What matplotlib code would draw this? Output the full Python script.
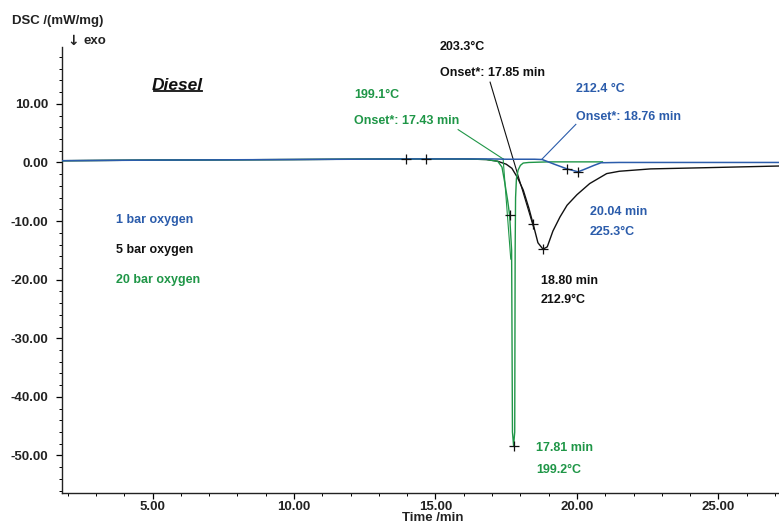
import matplotlib
matplotlib.use("Agg")
import matplotlib.pyplot as plt
from matplotlib.ticker import MultipleLocator, FormatStrFormatter

plt.rcParams['font.family'] = ['Liberation Sans', 'DejaVu Sans']
plt.rcParams['font.weight'] = 'bold'

BLUE = '#2b5cab'
GREEN = '#1f9647'
BLACK = '#111111'

# ---- data (time in min, DSC in mW/mg) ----
blue_t = [1.8, 5, 10, 14, 16, 17, 17.5, 18, 18.5, 18.77, 19.2, 19.65, 20.04, 20.3, 20.6, 20.85, 21.5, 24, 27.2]
blue_v = [0.3, 0.4, 0.5, 0.6, 0.6, 0.6, 0.55, 0.55, 0.55, 0.5, -0.3, -1.1, -1.6, -1.1, -0.5, -0.05, 0.0, 0.0, 0.0]

black_t = [1.8, 5, 10, 14, 16, 16.8, 17.2, 17.5, 17.7, 17.9, 18.1, 18.3, 18.45, 18.62, 18.8, 18.95,
           19.15, 19.4, 19.65, 20.0, 20.45, 21.05, 21.5, 22.6, 24.5, 27.2]
black_v = [0.3, 0.4, 0.5, 0.6, 0.6, 0.5, 0.2, -0.3, -1.0, -2.6, -4.7, -7.8, -10.5, -13.7, -14.8, -14.4,
           -11.7, -9.3, -7.3, -5.5, -3.6, -1.9, -1.5, -1.1, -0.9, -0.6]

green_t = [1.8, 5, 10, 14, 16, 16.8, 17.2, 17.35, 17.45, 17.55, 17.62, 17.69, 17.72, 17.76,
           17.80, 17.815, 17.83, 17.86, 17.92, 18.0, 18.1, 18.3, 19.0, 20.0, 20.9]
green_v = [0.3, 0.4, 0.5, 0.6, 0.6, 0.5, 0.2, -0.8, -3.5, -6.5, -9.0, -15, -46, -48.3,
           -46, -15, -6, -2.8, -1.3, -0.5, -0.1, 0.0, 0.1, 0.1, 0.1]

# marker points (+)
base_marks_t = [13.96, 14.66]
base_marks_v = [0.6, 0.6]
blue_marks_t = [19.65, 20.04]
blue_marks_v = [-1.1, -1.6]
black_marks_t = [18.45, 18.8]
black_marks_v = [-10.5, -14.8]
green_marks_t = [17.62, 17.76]
green_marks_v = [-9.0, -48.3]

# onset construction lines
green_leader_t = [15.8, 17.39]
green_leader_v = [5.6, 0.6]
green_tangent_t = [17.39, 17.66]
green_tangent_v = [0.6, -16.5]
black_tangent_t = [16.93, 18.48]
black_tangent_v = [13.7, -11.3]
blue_leader_t = [19.96, 18.77]
blue_leader_v = [6.5, 0.6]

series_labels = ['1 bar oxygen', '5 bar oxygen', '20 bar oxygen']

fig = plt.figure(figsize=(7.79, 5.24), dpi=100)
ax = fig.add_axes([62/779, 1-493/524, (779-62)/779, (493-47)/524])

ax.plot(black_t, black_v, color=BLACK, lw=1.0, zorder=3)
ax.plot(green_t, green_v, color=GREEN, lw=1.0, zorder=4)
ax.plot(blue_t, blue_v, color=BLUE, lw=1.1, zorder=5)

ax.plot(green_leader_t, green_leader_v, color=GREEN, lw=0.8, zorder=4)
ax.plot(green_tangent_t, green_tangent_v, color=GREEN, lw=0.8, zorder=4)
ax.plot(black_tangent_t, black_tangent_v, color=BLACK, lw=0.8, zorder=3)
ax.plot(blue_leader_t, blue_leader_v, color=BLUE, lw=0.8, zorder=5)

for mt, mv in [(base_marks_t, base_marks_v), (blue_marks_t, blue_marks_v),
               (black_marks_t, black_marks_v), (green_marks_t, green_marks_v)]:
    ax.plot(mt, mv, ls='none', marker='+', ms=7, mew=0.9, color=BLACK, zorder=6)

ax.set_xlim(1.80, 27.14)
ax.set_ylim(-56.4, 19.7)

for s in ['top', 'right']:
    ax.spines[s].set_visible(False)
for s in ['left', 'bottom']:
    ax.spines[s].set_linewidth(1.0)
    ax.spines[s].set_color('#222222')

ax.xaxis.set_major_locator(MultipleLocator(5))
ax.xaxis.set_minor_locator(MultipleLocator(1))
ax.yaxis.set_major_locator(MultipleLocator(10))
ax.yaxis.set_minor_locator(MultipleLocator(2))
ax.xaxis.set_major_formatter(FormatStrFormatter('%.2f'))
ax.yaxis.set_major_formatter(FormatStrFormatter('%.2f'))
ax.tick_params(which='major', direction='out', length=4, width=0.9, labelsize=9.5)
ax.tick_params(axis='y', which='major', pad=6)
ax.tick_params(axis='x', which='major', pad=2)
ax.tick_params(which='minor', direction='out', length=2.5, width=0.7)
for lab in ax.get_xticklabels() + ax.get_yticklabels():
    lab.set_fontweight('bold')
    lab.set_color('#222222')

fs = 9
def t(x, y, s, c):
    ax.text(x, y, s, color=c, fontsize=fs, fontweight='bold', ha='left', va='center', clip_on=False)

t(15.16, 19.7, '203.3°C', BLACK)
t(15.16, 15.2, 'Onset*: 17.85 min', BLACK)
t(12.12, 11.5, '199.1°C', GREEN)
t(12.12, 7.0, 'Onset*: 17.43 min', GREEN)
t(19.96, 12.5, '212.4 °C', BLUE)
t(19.96, 7.7, 'Onset*: 18.76 min', BLUE)
t(20.46, -8.4, '20.04 min', BLUE)
t(20.46, -11.9, '225.3°C', BLUE)
t(18.73, -20.2, '18.80 min', BLACK)
t(18.73, -23.5, '212.9°C', BLACK)
t(18.55, -48.7, '17.81 min', GREEN)
t(18.55, -52.5, '199.2°C', GREEN)
t(3.71, -9.8, series_labels[0], BLUE)
t(3.71, -14.9, series_labels[1], BLACK)
t(3.71, -20.1, series_labels[2], GREEN)

dtxt = ax.text(4.98, 13.05, 'Diesel', color=BLACK, fontsize=12.5, fontweight='bold',
               fontstyle='italic', ha='left', va='center')

fig.text(12/779, 1-21/524, 'DSC /(mW/mg)', fontsize=9.5, fontweight='bold', ha='left', va='center', color='#222222')
fig.text(67/779, 1-41/524, '\u2193', fontsize=10, ha='left', va='center', color='#222222',
         family=['DejaVu Sans'])
fig.text(83/779, 1-41/524, 'exo', fontsize=9.5, fontweight='bold', ha='left', va='center', color='#222222')
fig.text(433/779, 1-518/524, 'Time /min', fontsize=9.5, fontweight='bold', ha='center', va='center', color='#222222')

# underline for "Diesel"
fig.canvas.draw()
bb = dtxt.get_window_extent(renderer=fig.canvas.get_renderer())
inv = fig.transFigure.inverted()
(x0, y0), (x1, y1) = inv.transform([(bb.x0, bb.y0), (bb.x1, bb.y0)])
fig.add_artist(plt.Line2D([x0 + 0.002, x1 - 0.002], [y0 + 0.004, y0 + 0.004], color=BLACK, lw=1.3,
                          transform=fig.transFigure))

fig.savefig('out.png', dpi=100)
